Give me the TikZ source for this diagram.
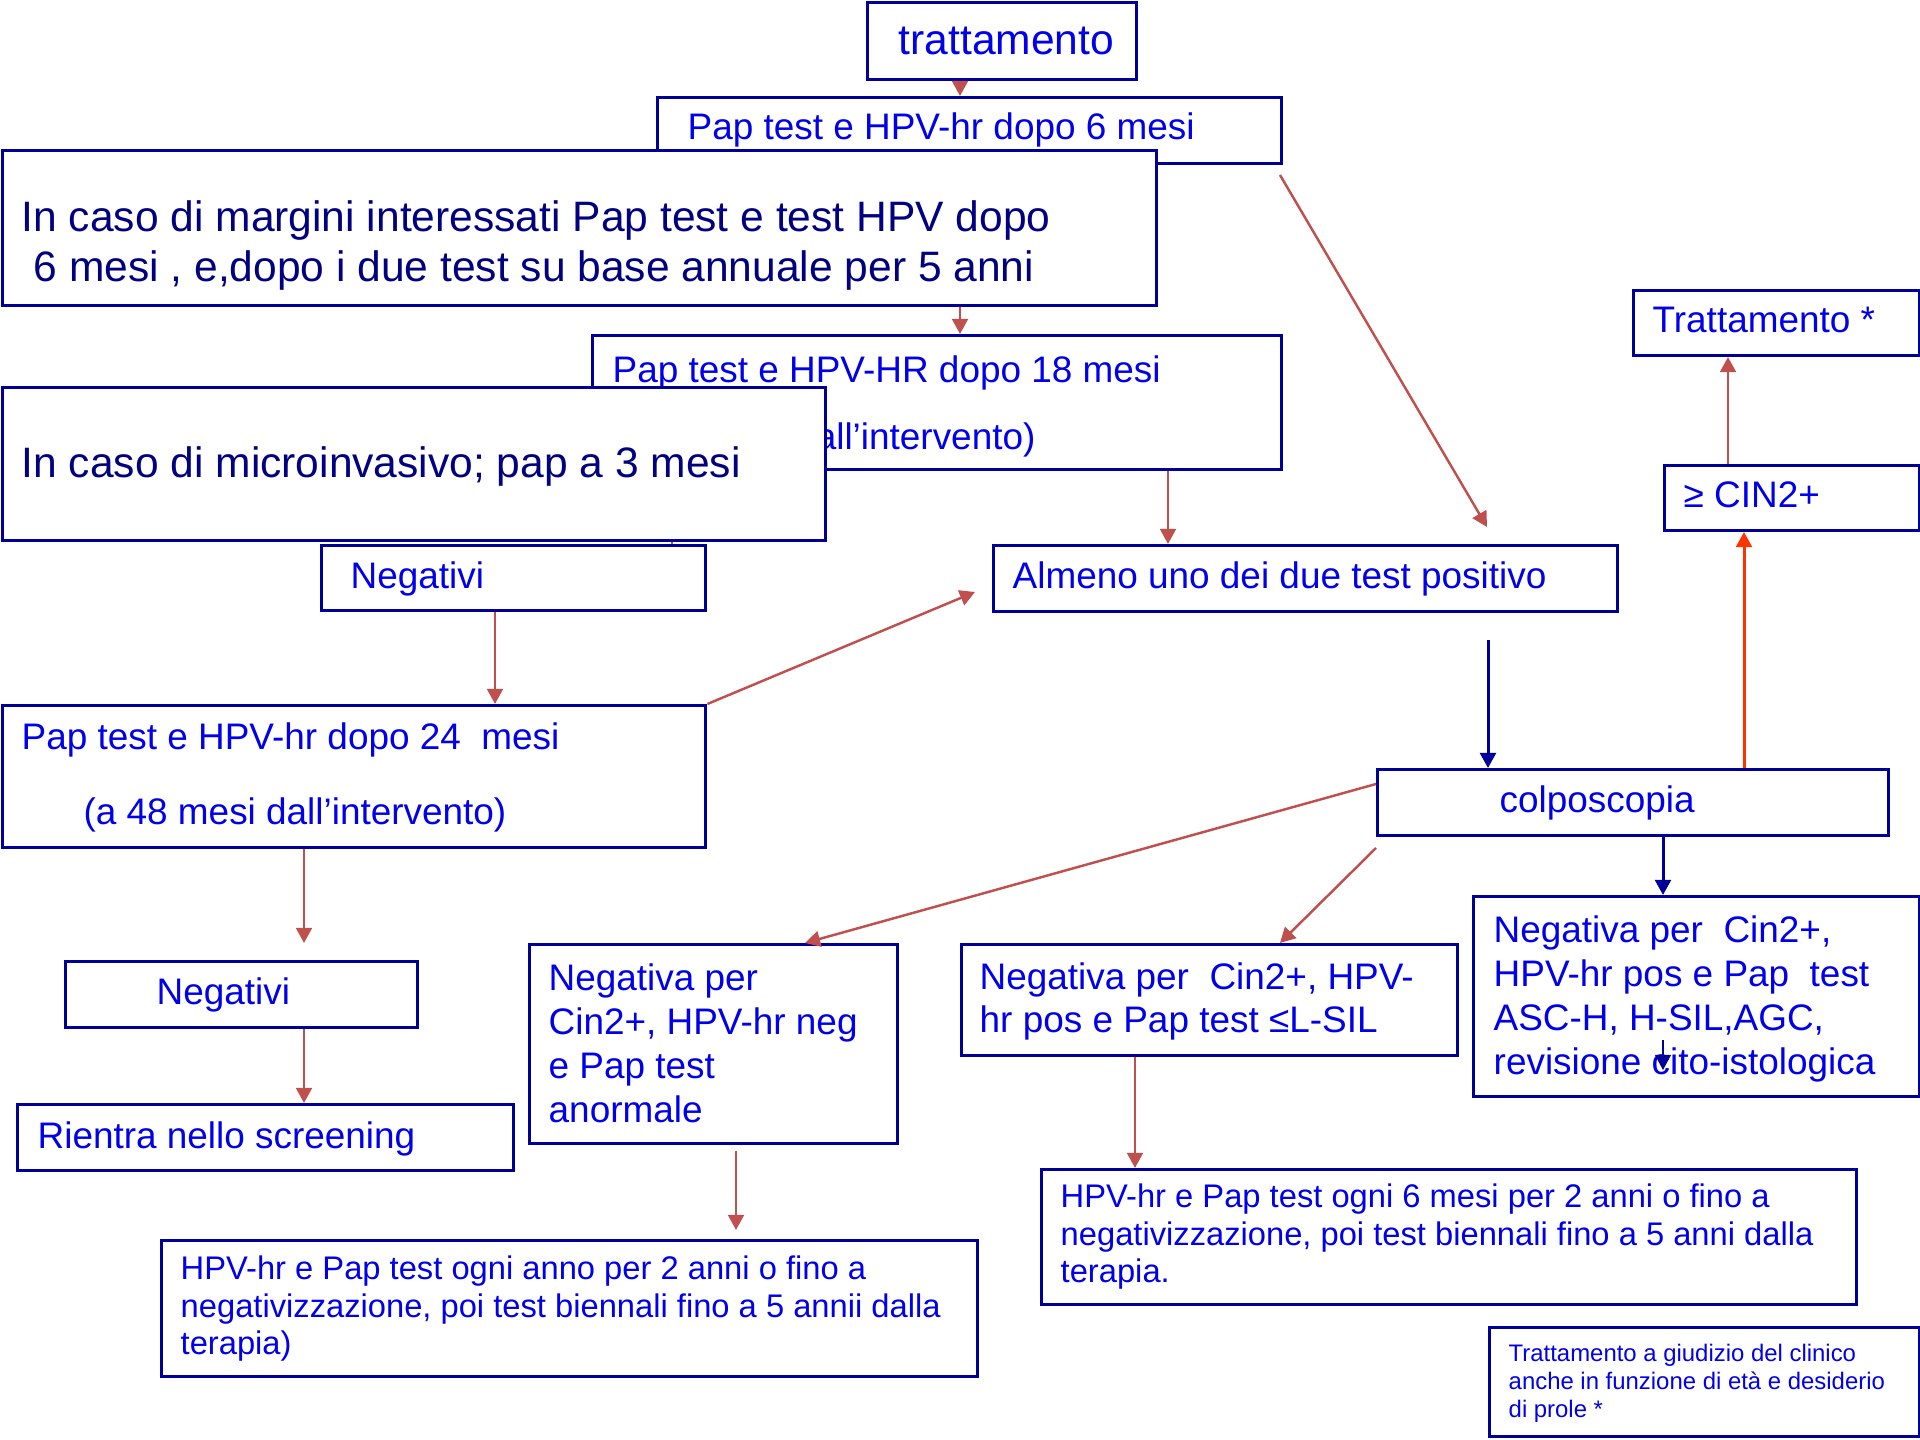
\documentclass[tikz,border=0pt]{standalone}
\usepackage{fontspec}
\setmainfont{Liberation Sans}
\usetikzlibrary{arrows.meta}
\definecolor{boxblue}{RGB}{0,0,153}
\definecolor{txtblue}{RGB}{0,0,235}
\definecolor{txtnavy}{RGB}{0,0,128}
\definecolor{arrred}{RGB}{192,80,77}
\definecolor{arrnavy}{RGB}{0,0,153}
\definecolor{arrorange}{RGB}{255,51,0}
\begin{document}
\begin{tikzpicture}[x=0.01cm,y=-0.01cm,
  box/.style={draw=boxblue,line width=0.85pt,fill=white,inner sep=0pt,anchor=north west},
  txt/.style={text=txtblue,inner sep=0pt,anchor=base west,align=left,font=\fontsize{10.5}{12.6}\selectfont},
  bigtxt/.style={txt,text=txtnavy,font=\fontsize{12.1}{14.5}\selectfont},
  midtxt/.style={txt,font=\fontsize{9.3}{10.75}\selectfont},
  smalltxt/.style={txt,font=\fontsize{6.8}{8}\selectfont},
  redarr/.style={draw=arrred,line width=0.7pt,-{Triangle[width=4.5pt,length=4.3pt]}},
  navyarr/.style={draw=arrnavy,line width=0.85pt,-{Triangle[width=4.5pt,length=4.3pt]}},
  orangearr/.style={draw=arrorange,line width=0.85pt,-{Triangle[width=4.5pt,length=4.3pt]}}]
\useasboundingbox (0,0) rectangle (1920,1440);

\node[box,minimum width=2.69cm,minimum height=0.77cm] (tratt) at (866,1) {};
\node[bigtxt,text=txtblue] (tratt-t) at (898,55) {trattamento};
\node[box,minimum width=6.24cm,minimum height=0.66cm] (pap6) at (656,96) {};
\node[txt] (pap6-t) at (687,140) {Pap test e HPV-hr dopo 6 mesi};
\node[box,minimum width=11.53cm,minimum height=1.55cm] (marg) at (1,149) {};
\node[bigtxt] (marg-t) at (21,282) {In caso di margini interessati Pap test e test HPV dopo\\\hspace*{.28em}6 mesi , e,dopo i due test su base annuale per 5 anni};

\node[box,minimum width=6.89cm,minimum height=1.34cm] (pap18) at (591,334) {};
\node[txt,font=\fontsize{10.5}{19.3}\selectfont] (pap18-t) at (612,450) {Pap test e HPV-HR dopo 18 mesi\\\hspace*{2.03cm}all’intervento)};
\node[box,minimum width=3.84cm,minimum height=0.65cm] (neg1) at (320,544) {};
\node[txt] (neg1-t) at (350,589) {Negativi};
\draw[arrred,line width=0.7pt] (672,0 |- pap18.south) -- (672,0 |- neg1.north);
\node[box,minimum width=8.23cm,minimum height=1.53cm] (micro) at (1,386) {};
\node[bigtxt] (micro-t) at (21,478) {In caso di microinvasivo; pap a 3 mesi};

\node[box,minimum width=6.24cm,minimum height=0.66cm] (almeno) at (992,544) {};
\node[txt] (almeno-t) at (1012,589) {Almeno uno dei due test positivo};
\node[box,minimum width=2.86cm,minimum height=0.65cm] (trat2) at (1632,289) {};
\node[txt] (trat2-t) at (1652,333) {Trattamento *};
\node[box,minimum width=2.55cm,minimum height=0.65cm] (cin) at (1663,464) {};
\node[txt] (cin-t) at (1683,508) {≥ CIN2+};
\node[box,minimum width=7.03cm,minimum height=1.42cm] (pap24) at (1,704) {};
\node[txt,font=\fontsize{10.5}{21.6}\selectfont] (pap24-t) at (21,825) {Pap test e HPV-hr dopo 24\ \ mesi\\\hspace*{17.6pt}(a 48 mesi dall’intervento)};
\node[box,minimum width=5.11cm,minimum height=0.66cm] (colp) at (1376,768) {};
\node[txt] (colp-t) at (1499,813) {colposcopia};
\node[box,minimum width=3.52cm,minimum height=0.66cm] (neg2) at (64,960) {};
\node[txt] (neg2-t) at (156,1005) {Negativi};
\node[box,minimum width=4.96cm,minimum height=0.66cm] (rientra) at (16,1103) {};
\node[txt] (rientra-t) at (37,1149) {Rientra nello screening};
\node[box,minimum width=3.68cm,minimum height=1.99cm] (nega) at (528,943) {};
\node[txt] (nega-t) at (548,1123) {Negativa per\\Cin2+, HPV-hr neg\\e Pap test\\anormale};
\node[box,minimum width=4.96cm,minimum height=1.11cm] (negb) at (960,943) {};
\node[txt,font=\fontsize{10.5}{12.3}\selectfont] (negb-t) at (979,1033) {Negativa per\ \ Cin2+, HPV-\\hr pos e Pap test ≤L-SIL};
\node[box,minimum width=4.46cm,minimum height=2.0cm] (negc) at (1472,895) {};
\node[txt] (negc-t) at (1493,1075) {Negativa per\ \ Cin2+,\\HPV-hr pos e Pap\ \ test\\ASC-H, H-SIL,AGC,\\revisione cito-istologica};
\node[box,minimum width=8.16cm,minimum height=1.36cm] (hpva) at (160,1239) {};
\node[midtxt] (hpva-t) at (180,1355) {HPV-hr e Pap test ogni anno per 2 anni o fino a\\negativizzazione, poi test biennali fino a 5 annii dalla\\terapia)};
\node[box,minimum width=8.15cm,minimum height=1.35cm] (hpvb) at (1040,1168) {};
\node[midtxt] (hpvb-t) at (1060,1283) {HPV-hr e Pap test ogni 6 mesi per 2 anni o fino a\\negativizzazione, poi test biennali fino a 5 anni dalla\\terapia.};
\node[box,minimum width=4.3cm,minimum height=1.09cm] (note) at (1488,1326) {};
\node[smalltxt] (note-t) at (1508,1418) {Trattamento a giudizio del clinico\\anche in funzione di età e desiderio\\di prole *};

\coordinate (diag1) at (1280,175);
\coordinate (diag1e) at (1487,527);
\coordinate (diag2e) at (975,592);
\coordinate (navy1) at (1488,640);
\coordinate (p24e) at (304,943);
\coordinate (negae) at (736,1151);
\coordinate (hpvae) at (736,1230);
\coordinate (inner1) at (1663,1040);
\coordinate (inner2) at (1663,1070);

\draw[redarr] (960,0 |- tratt.south) -- (960,0 |- pap6.north);
\draw[redarr] (960,0 |- marg.south) -- (960,0 |- pap18.north);
\draw[redarr] (diag1) -- (diag1e);
\draw[redarr] (1168,0 |- pap18.south) -- (1168,0 |- almeno.north);
\draw[redarr] (pap24.north east) -- (diag2e);
\draw[redarr] (495,0 |- neg1.south) -- (495,0 |- pap24.north);
\draw[navyarr] (navy1) -- (1488,0 |- colp.north);
\draw[orangearr] (1744,0 |- colp.north) -- (1744,0 |- cin.south);
\draw[redarr] (1728,0 |- cin.north) -- (1728,0 |- trat2.south);
\draw[redarr] (colp.west |- 0,784) -- (805,0 |- nega.north);
\draw[redarr] (colp.west |- 0,848) -- (1280,0 |- negb.north);
\draw[navyarr] (1663,0 |- colp.south) -- (1663,0 |- negc.north);
\draw[redarr] (304,0 |- pap24.south) -- (p24e);
\draw[redarr] (304,0 |- neg2.south) -- (304,0 |- rientra.north);
\draw[redarr] (negae) -- (hpvae);
\draw[redarr] (1135,0 |- negb.south) -- (1135,0 |- hpvb.north);
\draw[navyarr,line width=0.5pt] (inner1) -- (inner2);
\end{tikzpicture}
\end{document}
